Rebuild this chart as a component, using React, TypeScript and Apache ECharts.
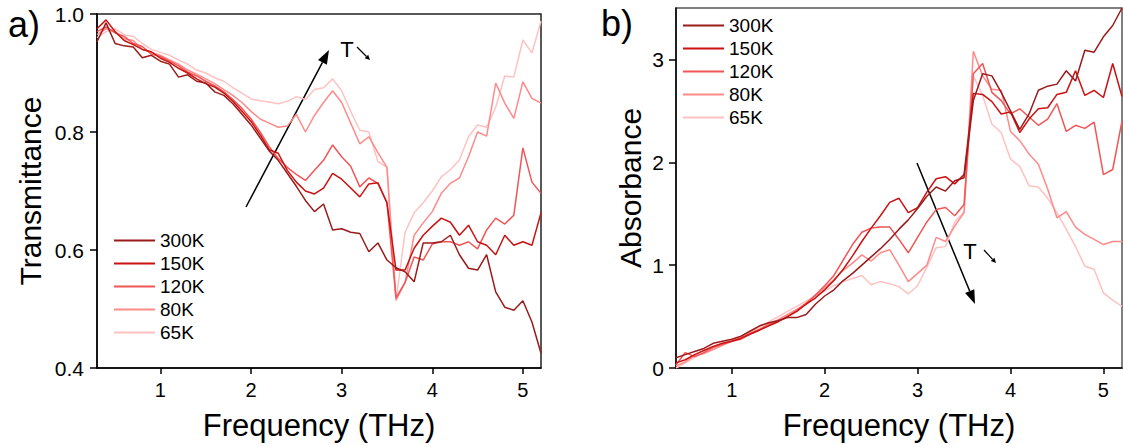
import React, { useEffect, useRef } from 'react';
import * as echarts from 'echarts';

const TEMPS = ['300K', '150K', '120K', '80K', '65K'];
const COLORS = ['#9B1B1B', '#CC1111', '#F25555', '#FF8A8A', '#FFC2C2'];

// Panel a) Transmittance
const FREQ_A = [0.3, 0.4, 0.5, 0.6, 0.7, 0.8, 0.9, 1.0, 1.1, 1.2, 1.3, 1.4, 1.5, 1.6, 1.7, 1.8, 1.9, 2.0, 2.1, 2.2, 2.3, 2.4, 2.5, 2.6, 2.7, 2.8, 2.9, 3.0, 3.1, 3.2, 3.3, 3.4, 3.5, 3.6, 3.7, 3.8, 3.9, 4.0, 4.1, 4.2, 4.3, 4.4, 4.5, 4.6, 4.7, 4.8, 4.9, 5.0, 5.1, 5.2];
const T_300K = [0.953, 0.985, 0.950, 0.946, 0.944, 0.926, 0.930, 0.920, 0.915, 0.893, 0.897, 0.886, 0.883, 0.868, 0.862, 0.848, 0.830, 0.812, 0.790, 0.768, 0.752, 0.730, 0.708, 0.684, 0.665, 0.678, 0.634, 0.636, 0.630, 0.628, 0.597, 0.612, 0.583, 0.570, 0.563, 0.546, 0.612, 0.612, 0.614, 0.625, 0.592, 0.569, 0.566, 0.592, 0.529, 0.503, 0.498, 0.514, 0.478, 0.425];
const T_150K = [0.975, 0.990, 0.970, 0.955, 0.948, 0.940, 0.936, 0.925, 0.918, 0.908, 0.900, 0.890, 0.882, 0.876, 0.866, 0.852, 0.835, 0.818, 0.795, 0.770, 0.764, 0.735, 0.715, 0.700, 0.695, 0.705, 0.730, 0.720, 0.705, 0.690, 0.712, 0.714, 0.680, 0.566, 0.566, 0.603, 0.625, 0.640, 0.654, 0.647, 0.625, 0.642, 0.614, 0.608, 0.592, 0.625, 0.608, 0.614, 0.608, 0.663];
const T_120K = [0.970, 0.978, 0.968, 0.962, 0.950, 0.945, 0.932, 0.928, 0.920, 0.912, 0.902, 0.895, 0.886, 0.878, 0.868, 0.855, 0.840, 0.822, 0.800, 0.775, 0.755, 0.740, 0.728, 0.718, 0.735, 0.752, 0.778, 0.758, 0.742, 0.707, 0.722, 0.713, 0.680, 0.519, 0.545, 0.588, 0.583, 0.610, 0.614, 0.614, 0.608, 0.614, 0.602, 0.634, 0.654, 0.644, 0.659, 0.773, 0.715, 0.696];
const T_80K = [0.965, 0.975, 0.970, 0.958, 0.955, 0.940, 0.935, 0.930, 0.922, 0.915, 0.905, 0.898, 0.890, 0.882, 0.872, 0.862, 0.850, 0.835, 0.822, 0.815, 0.808, 0.810, 0.830, 0.800, 0.828, 0.850, 0.870, 0.850, 0.815, 0.780, 0.792, 0.765, 0.740, 0.515, 0.545, 0.625, 0.646, 0.665, 0.696, 0.713, 0.722, 0.758, 0.800, 0.793, 0.883, 0.849, 0.823, 0.885, 0.857, 0.849];
const T_65K = [0.960, 0.970, 0.975, 0.965, 0.962, 0.950, 0.940, 0.935, 0.930, 0.922, 0.915, 0.905, 0.900, 0.892, 0.886, 0.875, 0.866, 0.856, 0.853, 0.851, 0.848, 0.852, 0.860, 0.855, 0.872, 0.875, 0.890, 0.870, 0.835, 0.803, 0.800, 0.750, 0.740, 0.515, 0.630, 0.663, 0.680, 0.700, 0.724, 0.736, 0.753, 0.792, 0.812, 0.808, 0.842, 0.895, 0.893, 0.956, 0.934, 0.988];

// Panel b) Absorbance
const FREQ_B = [0.4, 0.5, 0.6, 0.7, 0.8, 0.9, 1.0, 1.1, 1.2, 1.3, 1.4, 1.5, 1.6, 1.7, 1.8, 1.9, 2.0, 2.1, 2.2, 2.3, 2.4, 2.5, 2.6, 2.7, 2.8, 2.9, 3.0, 3.1, 3.2, 3.3, 3.4, 3.5, 3.6, 3.7, 3.8, 3.9, 4.0, 4.1, 4.2, 4.3, 4.4, 4.5, 4.6, 4.7, 4.8, 4.9, 5.0, 5.1, 5.2];
const A_300K = [0.10, 0.13, 0.16, 0.19, 0.24, 0.26, 0.28, 0.31, 0.36, 0.41, 0.44, 0.46, 0.49, 0.49, 0.52, 0.62, 0.70, 0.76, 0.85, 0.92, 1.00, 1.08, 1.16, 1.25, 1.35, 1.44, 1.55, 1.67, 1.76, 1.72, 1.82, 1.85, 2.60, 2.86, 2.84, 2.68, 2.50, 2.32, 2.47, 2.70, 2.74, 2.76, 2.89, 2.79, 3.09, 3.07, 3.22, 3.33, 3.50];
const A_150K = [0.05, 0.08, 0.13, 0.17, 0.21, 0.24, 0.26, 0.29, 0.33, 0.37, 0.41, 0.45, 0.50, 0.55, 0.62, 0.68, 0.76, 0.85, 0.96, 1.09, 1.23, 1.36, 1.48, 1.61, 1.65, 1.51, 1.56, 1.71, 1.84, 1.86, 1.79, 1.88, 2.67, 2.66, 2.59, 2.47, 2.49, 2.29, 2.42, 2.52, 2.53, 2.66, 2.68, 2.89, 2.65, 2.70, 2.63, 2.96, 2.64];
const A_120K = [0.03, 0.15, 0.11, 0.15, 0.20, 0.23, 0.26, 0.28, 0.33, 0.37, 0.42, 0.46, 0.50, 0.56, 0.63, 0.71, 0.80, 0.90, 1.05, 1.20, 1.32, 1.36, 1.37, 1.37, 1.25, 1.12, 1.27, 1.42, 1.54, 1.56, 1.48, 1.59, 2.86, 2.96, 2.68, 2.60, 2.47, 2.52, 2.44, 2.36, 2.42, 2.57, 2.30, 2.36, 2.33, 2.39, 1.88, 1.93, 2.40];
const A_80K = [0.02, 0.06, 0.12, 0.14, 0.18, 0.22, 0.26, 0.30, 0.34, 0.38, 0.43, 0.47, 0.52, 0.57, 0.62, 0.70, 0.78, 0.86, 0.95, 1.02, 1.10, 1.04, 1.12, 1.15, 1.00, 0.84, 0.92, 1.00, 1.27, 1.23, 1.38, 1.51, 3.08, 2.84, 2.71, 2.70, 2.30, 2.21, 2.08, 1.98, 1.74, 1.46, 1.52, 1.37, 1.30, 1.25, 1.20, 1.23, 1.23];
const A_65K = [0.00, 0.05, 0.10, 0.15, 0.20, 0.24, 0.27, 0.31, 0.35, 0.40, 0.45, 0.50, 0.55, 0.60, 0.65, 0.70, 0.75, 0.80, 0.84, 0.87, 0.90, 0.81, 0.84, 0.82, 0.79, 0.72, 0.80, 0.98, 1.17, 1.18, 1.42, 1.52, 2.84, 2.65, 2.37, 2.29, 2.03, 1.96, 1.77, 1.76, 1.65, 1.51, 1.35, 1.18, 0.99, 0.96, 0.73, 0.66, 0.60];

const X_TICKS = [1, 2, 3, 4, 5];
const Y_TICKS_A = [0.4, 0.6, 0.8, 1.0];
const Y_TICKS_B = [0, 1, 2, 3];

const FONT = '"Liberation Sans", Arial, sans-serif';

function arrow(x1: number, y1: number, x2: number, y2: number, headLen: number, headHalf: number, w: number) {
  const dx = x2 - x1;
  const dy = y2 - y1;
  const len = Math.sqrt(dx * dx + dy * dy);
  const ux = dx / len;
  const uy = dy / len;
  const bx = x2 - ux * headLen;
  const by = y2 - uy * headLen;
  const px = -uy * headHalf;
  const py = ux * headHalf;
  return [
    { type: 'line', shape: { x1, y1, x2: bx, y2: by }, style: { stroke: '#000', lineWidth: w }, silent: true },
    {
      type: 'polygon',
      shape: { points: [[x2, y2], [bx + px, by + py], [bx - px, by - py]] },
      style: { fill: '#000' },
      silent: true,
    },
  ];
}

export default function App() {
  const ref = useRef<HTMLDivElement>(null);
  useEffect(() => {
    const chart = echarts.init(ref.current!, null, { renderer: 'svg' });
    const tData = [T_300K, T_150K, T_120K, T_80K, T_65K];
    const aData = [A_300K, A_150K, A_120K, A_80K, A_65K];
    const series: any[] = [];
    TEMPS.forEach((name, i) => {
      series.push({
        type: 'line', name, xAxisIndex: 0, yAxisIndex: 0,
        data: FREQ_A.map((f, j) => [f, tData[i][j]]),
        symbol: 'none', lineStyle: { color: COLORS[i], width: 1.5 }, itemStyle: { color: COLORS[i] },
        z: 10 - i,
      });
    });
    TEMPS.forEach((name, i) => {
      series.push({
        type: 'line', name, xAxisIndex: 1, yAxisIndex: 1,
        data: FREQ_B.map((f, j) => [f, aData[i][j]]),
        symbol: 'none', lineStyle: { color: COLORS[i], width: 1.5 }, itemStyle: { color: COLORS[i] },
        z: 10 - i,
      });
    });

    const xAxisBase = (gridIndex: number, min: number) => ({
      type: 'value', gridIndex, min, max: 5.2,
      name: 'Frequency (THz)', nameLocation: 'middle', nameGap: 42,
      nameTextStyle: { fontSize: 31, color: '#000', fontFamily: FONT },
      axisLine: { show: true, lineStyle: { color: '#000', width: 1.5 } },
      axisTick: { show: true, inside: false, length: 6, customValues: X_TICKS, lineStyle: { color: '#000', width: 1.5 } },
      axisLabel: { customValues: X_TICKS, fontSize: 20, margin: 12, color: '#000', fontFamily: FONT },
      splitLine: { show: false },
    });

    const legendBase = (left: number, top: number) => ({
      data: TEMPS, orient: 'vertical', left, top, padding: 0, itemWidth: 41, itemHeight: 2, itemGap: 0,
      icon: 'rect', selectedMode: false,
      textStyle: { fontSize: 19, lineHeight: 23, color: '#000', fontFamily: FONT },
    });

    const option: any = {
      animation: false,
      backgroundColor: '#fff',
      grid: [
        { left: 97, top: 14, width: 444, height: 354, show: true, borderColor: '#222', borderWidth: 1.5 },
        { left: 676, top: 8, width: 446, height: 360, show: true, borderColor: '#555', borderWidth: 1.5 },
      ],
      xAxis: [xAxisBase(0, 0.3), xAxisBase(1, 0.4)],
      yAxis: [
        {
          type: 'value', gridIndex: 0, min: 0.4, max: 1.0,
          name: 'Transmittance', nameLocation: 'middle', nameGap: 52,
          nameTextStyle: { fontSize: 30, color: '#000', fontFamily: FONT },
          axisLine: { show: true, lineStyle: { color: '#000', width: 1.5 } },
          axisTick: { show: true, inside: false, length: 7, customValues: Y_TICKS_A, lineStyle: { color: '#000', width: 1.5 } },
          axisLabel: { customValues: Y_TICKS_A, fontSize: 21, margin: 13, color: '#000', fontFamily: FONT, formatter: (v: number) => v.toFixed(1) },
          splitLine: { show: false },
        },
        {
          type: 'value', gridIndex: 1, min: 0, max: 3.5,
          name: 'Absorbance', nameLocation: 'middle', nameGap: 31,
          nameTextStyle: { fontSize: 30, color: '#000', fontFamily: FONT },
          axisLine: { show: true, lineStyle: { color: '#000', width: 1.5 } },
          axisTick: { show: true, inside: false, length: 7, customValues: Y_TICKS_B, lineStyle: { color: '#000', width: 1.5 } },
          axisLabel: { customValues: Y_TICKS_B, fontSize: 21, margin: 12, color: '#000', fontFamily: FONT },
          splitLine: { show: false },
        },
      ],
      legend: [legendBase(114, 229), legendBase(683, 14)],
      graphic: [
        { type: 'text', x: 8, y: 24, style: { text: 'a)', fontSize: 36, fill: '#000', fontFamily: FONT, verticalAlign: 'middle' }, silent: true },
        { type: 'text', x: 601, y: 23, style: { text: 'b)', fontSize: 36, fill: '#000', fontFamily: FONT, verticalAlign: 'middle' }, silent: true },
        { type: 'text', x: 347, y: 49, style: { text: 'T', fontSize: 22, fill: '#000', fontFamily: FONT, align: 'center', verticalAlign: 'middle' }, silent: true },
        { type: 'text', x: 970, y: 251, style: { text: 'T', fontSize: 22, fill: '#000', fontFamily: FONT, align: 'center', verticalAlign: 'middle' }, silent: true },
        ...arrow(246, 207, 329, 50, 14, 5, 1.5),
        ...arrow(917, 163, 975, 304, 14, 5, 1.5),
        ...arrow(357, 47, 370, 60, 5, 2.5, 1.2),
        ...arrow(984, 250, 996, 263, 5, 2.5, 1.2),
      ],
      series,
    };
    chart.setOption(option);
    return () => chart.dispose();
  }, []);
  return (
    <div
      ref={ref}
      style={{ position: 'fixed', left: 0, top: 0, width: 1123, height: 447, background: '#fff' }}
    />
  );
}
